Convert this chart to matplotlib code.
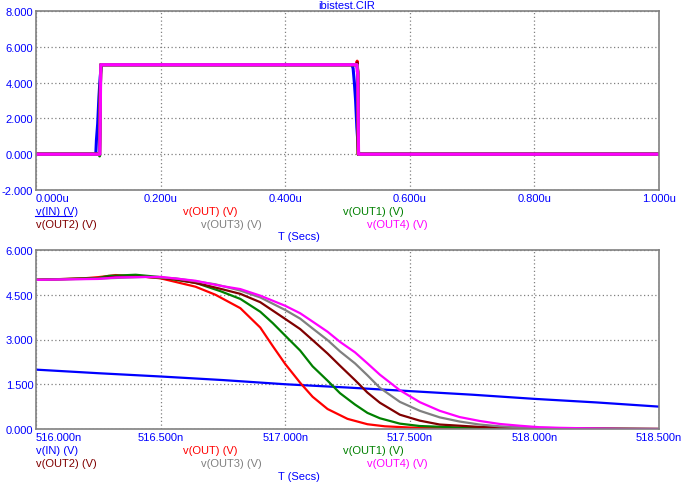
"""
ibistest.CIR - transient analysis plot (top: full run, bottom: zoom on falling edge)
"""

import matplotlib.pyplot as plt
from matplotlib.lines import Line2D

plt.rcParams['font.family'] = ['Liberation Sans', 'DejaVu Sans']

# ---- top plot data (time in us) ----
t_in_top = [0.0, 0.096, 0.097, 0.099, 0.101, 0.103, 0.105, 0.507, 0.509, 0.511, 0.513, 0.515, 0.518, 1.0]
v_in_top = [0.0, 0.0, 0.8, 1.7, 3.2, 4.3, 5.0, 5.0, 4.8, 4.0, 3.0, 1.5, 0.0, 0.0]

t_out_top = [0.0, 0.102, 0.103, 0.104, 0.515, 0.5155, 0.5165, 0.517, 1.0]
v_out_top = [0.0, 0.0, 3.2, 5.0, 5.0, 5.2, 4.6, 0.0, 0.0]
t_out1_top = [0.0, 0.102, 0.1021, 0.103, 0.104, 0.515, 0.5155, 0.5165, 0.5172, 1.0]
v_out1_top = [0.0, 0.0, -0.1, 2.6, 5.0, 5.0, 4.9, 4.6, 0.0, 0.0]
t_out2_top = [0.0, 0.102, 0.103, 0.104, 0.515, 0.5155, 0.5165, 0.5174, 1.0]
v_out2_top = [0.0, 0.0, 3.1, 5.0, 5.0, 5.1, 4.5, 0.0, 0.0]
t_out3_top = [0.0, 0.102, 0.103, 0.104, 0.515, 0.5155, 0.5165, 0.5176, 1.0]
v_out3_top = [0.0, 0.0, 2.8, 5.0, 5.0, 5.0, 4.6, 0.0, 0.0]
t_out4_top = [0.0, 0.1025, 0.103, 0.104, 0.515, 0.5155, 0.5165, 0.5178, 1.0]
v_out4_top = [0.0, 0.0, 1.6, 5.0, 5.0, 4.6, 4.6, 0.0, 0.0]

# ---- bottom plot data (time in ns) ----
t_in = [516.0, 516.25, 516.5, 516.75, 517.0, 517.25, 517.5, 517.75, 518.0, 518.25, 518.5]
v_in = [1.99, 1.87, 1.76, 1.64, 1.50, 1.39, 1.27, 1.15, 1.01, 0.89, 0.75]

t_out = [516.0, 516.19, 516.25, 516.32, 516.44, 516.5, 516.56, 516.64, 516.72, 516.82, 516.9,
         516.95, 517.0, 517.06, 517.11, 517.17, 517.25, 517.33, 517.4, 517.5, 517.7, 518.5]
v_out = [5.0, 5.05, 5.09, 5.16, 5.1, 5.05, 4.93, 4.77, 4.5, 4.05, 3.4,
         2.78, 2.18, 1.55, 1.08, 0.67, 0.34, 0.16, 0.09, 0.05, 0.01, 0.0]

t_out1 = [516.0, 516.25, 516.29, 516.4, 516.49, 516.56, 516.64, 516.74, 516.82, 516.9, 516.95,
          517.0, 517.06, 517.11, 517.17, 517.22, 517.28, 517.33, 517.38, 517.46, 517.54, 517.7, 518.0, 518.5]
v_out1 = [5.0, 5.06, 5.13, 5.17, 5.1, 5.0, 4.9, 4.62, 4.36, 3.93, 3.55,
          3.13, 2.63, 2.1, 1.62, 1.2, 0.82, 0.54, 0.36, 0.18, 0.1, 0.05, 0.02, 0.0]

t_out2 = [516.0, 516.25, 516.32, 516.44, 516.56, 516.66, 516.74, 516.82, 516.9, 517.0, 517.06,
          517.11, 517.17, 517.22, 517.28, 517.33, 517.38, 517.46, 517.54, 517.62, 517.78, 517.94, 518.5]
v_out2 = [5.0, 5.05, 5.1, 5.1, 5.02, 4.86, 4.7, 4.53, 4.25, 3.69, 3.35,
          2.98, 2.53, 2.12, 1.64, 1.22, 0.88, 0.48, 0.28, 0.15, 0.07, 0.03, 0.0]

t_out3 = [516.0, 516.25, 516.44, 516.56, 516.72, 516.82, 516.9, 517.0, 517.06, 517.11, 517.17,
          517.22, 517.28, 517.33, 517.38, 517.46, 517.54, 517.62, 517.7, 517.78, 517.86, 517.94,
          518.02, 518.2, 518.5]
v_out3 = [5.0, 5.04, 5.1, 5.05, 4.85, 4.64, 4.41, 3.99, 3.7, 3.37, 2.98,
          2.6, 2.2, 1.8, 1.38, 0.91, 0.61, 0.39, 0.25, 0.15, 0.09, 0.06,
          0.04, 0.01, 0.0]

t_out4 = [516.0, 516.25, 516.32, 516.5, 516.64, 516.74, 516.82, 516.9, 517.0, 517.06, 517.11,
          517.17, 517.22, 517.28, 517.33, 517.38, 517.46, 517.54, 517.62, 517.7, 517.78, 517.86,
          517.94, 518.02, 518.1, 518.36, 518.5]
v_out4 = [5.0, 5.03, 5.08, 5.1, 4.97, 4.8, 4.69, 4.47, 4.13, 3.88, 3.6,
          3.26, 2.92, 2.57, 2.2, 1.82, 1.3, 0.9, 0.61, 0.4, 0.27, 0.17,
          0.11, 0.06, 0.04, 0.0, 0.0]

top_xticks = [0.0, 0.2, 0.4, 0.6, 0.8, 1.0]
top_yticks = [-2.0, 0.0, 2.0, 4.0, 6.0, 8.0]
bot_xticks = [516.0, 516.5, 517.0, 517.5, 518.0, 518.5]
bot_yticks = [0.0, 1.5, 3.0, 4.5, 6.0]

labels = ["v(IN) (V)", "v(OUT) (V)", "v(OUT1) (V)", "v(OUT2) (V)", "v(OUT3) (V)", "v(OUT4) (V)"]
colors = ["#0000FF", "#FF0000", "#008000", "#800000", "#808080", "#FF00FF"]

W, H = 684, 485
fig = plt.figure(figsize=(W / 100, H / 100), dpi=100)
fig.patch.set_facecolor("white")


def px_axes(left, top, right, bottom):
    return fig.add_axes([left / W, 1 - bottom / H, (right - left) / W, (bottom - top) / H])


def style_axes(ax, xticks, yticks, xfmt, yfmt):
    ax.set_xticks(xticks)
    ax.set_yticks(yticks)
    ax.set_xticklabels([xfmt % v for v in xticks])
    ax.set_yticklabels([yfmt % v for v in yticks])
    ax.set_xlim(xticks[0], xticks[-1])
    ax.set_ylim(yticks[0], yticks[-1])
    ax.tick_params(length=0, colors="#0000FF", labelsize=8)
    ax.tick_params(axis="x", pad=2)
    ax.tick_params(axis="y", pad=2)
    ax.get_xticklabels()[0].set_ha("left")
    for s in ax.spines.values():
        s.set_color("#808080")
        s.set_linewidth(1.2)
    ax.grid(True, color="#808080", linestyle=(0, (1, 2)), linewidth=0.9)
    ax.set_axisbelow(True)


def legend_rows(y1, y2, y3):
    xs = [36, 183, 343, 36, 201, 367]
    ys = [y1, y1, y1, y2, y2, y2]
    for lab, c, x, y in zip(labels, colors, xs, ys):
        fig.text(x / W, 1 - y / H, lab, color=c, fontsize=8, va="center", ha="left")
    fig.text(278 / W, 1 - y3 / H, "T (Secs)", color="#0000FF", fontsize=8, va="center", ha="left")


# top plot
ax1 = px_axes(36, 12, 659, 191)
top_t = [t_in_top, t_out_top, t_out1_top, t_out2_top, t_out3_top, t_out4_top]
top_v = [v_in_top, v_out_top, v_out1_top, v_out2_top, v_out3_top, v_out4_top]
for t, v, c in zip(top_t, top_v, colors):
    ax1.plot(t, v, color=c, linewidth=2.2)
style_axes(ax1, top_xticks, top_yticks, "%.3fu", "%.3f")
legend_rows(212, 225, 237)
fig.add_artist(Line2D([35 / W, 72 / W], [1 - 217 / H, 1 - 217 / H], color="#0000FF", linewidth=0.8))

fig.text(347 / W, 1 - 6 / H, "ibistest.CIR", color="#0000FF", fontsize=8, ha="center", va="center")

# bottom plot
ax2 = px_axes(36, 251, 659, 430)
bot_t = [t_in, t_out, t_out1, t_out2, t_out3, t_out4]
bot_v = [v_in, v_out, v_out1, v_out2, v_out3, v_out4]
for t, v, c in zip(bot_t, bot_v, colors):
    ax2.plot(t, v, color=c, linewidth=1.6)
style_axes(ax2, bot_xticks, bot_yticks, "%.3fn", "%.3f")
legend_rows(451, 464, 477)

fig.savefig("out.png", dpi=100)
